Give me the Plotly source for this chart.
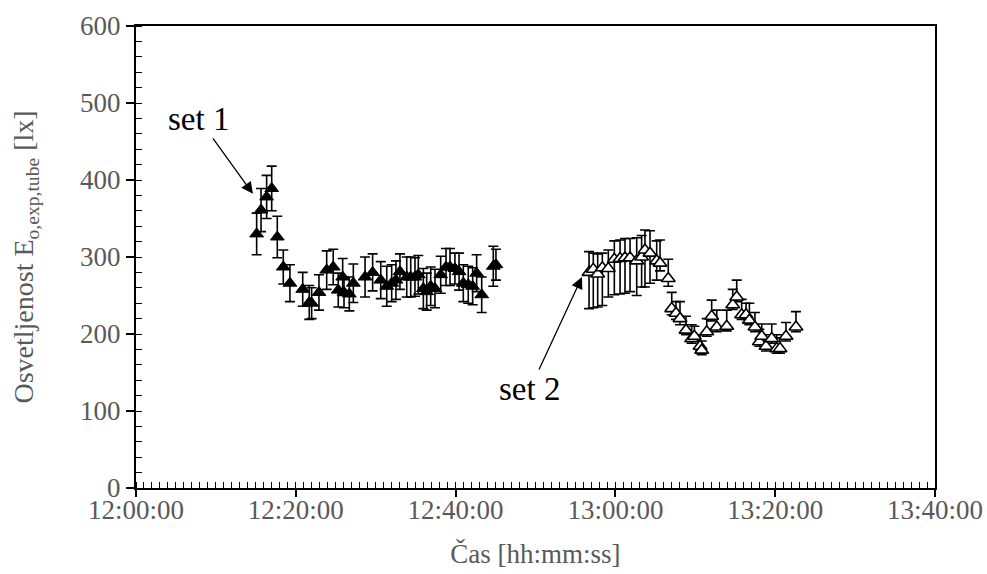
import plotly.graph_objects as go

# ---- data ----
set1_time = ["2024-01-01 12:15:06", "2024-01-01 12:15:39", "2024-01-01 12:16:21", "2024-01-01 12:16:59",
             "2024-01-01 12:17:41", "2024-01-01 12:18:26", "2024-01-01 12:19:16", "2024-01-01 12:20:52",
             "2024-01-01 12:21:41", "2024-01-01 12:21:59", "2024-01-01 12:22:54", "2024-01-01 12:23:52",
             "2024-01-01 12:24:41", "2024-01-01 12:25:19", "2024-01-01 12:25:52", "2024-01-01 12:26:02",
             "2024-01-01 12:26:42", "2024-01-01 12:27:12", "2024-01-01 12:28:40", "2024-01-01 12:29:37",
             "2024-01-01 12:30:38", "2024-01-01 12:31:23", "2024-01-01 12:32:00", "2024-01-01 12:32:32",
             "2024-01-01 12:33:02", "2024-01-01 12:33:53", "2024-01-01 12:34:23", "2024-01-01 12:34:55",
             "2024-01-01 12:35:20", "2024-01-01 12:35:58", "2024-01-01 12:36:23", "2024-01-01 12:36:53",
             "2024-01-01 12:37:25", "2024-01-01 12:38:08", "2024-01-01 12:38:48", "2024-01-01 12:39:18",
             "2024-01-01 12:39:55", "2024-01-01 12:40:26", "2024-01-01 12:40:58", "2024-01-01 12:41:35",
             "2024-01-01 12:42:08", "2024-01-01 12:42:38", "2024-01-01 12:43:16", "2024-01-01 12:44:43",
             "2024-01-01 12:45:03"]
set1_value = [330, 361, 378, 389, 326, 287, 266, 258, 241, 240, 254, 283, 287, 257, 274, 254, 252, 266,
              274, 280, 270, 262, 266, 270, 281, 274, 274, 274, 277, 259, 255, 262, 259, 277, 287, 287,
              285, 281, 266, 264, 262, 279, 251, 288, 290]
set1_err = [27, 28, 28, 29, 27, 22, 24, 22, 22, 20, 23, 25, 23, 22, 24, 20, 22, 25,
            26, 24, 24, 26, 24, 25, 23, 26, 26, 25, 25, 26, 24, 25, 25, 24, 24, 24,
            20, 24, 24, 24, 24, 24, 23, 26, 20]

set2_time = ["2024-01-01 12:56:42", "2024-01-01 12:57:14", "2024-01-01 12:57:47", "2024-01-01 12:58:22",
             "2024-01-01 12:59:07", "2024-01-01 12:59:52", "2024-01-01 13:00:35", "2024-01-01 13:01:12",
             "2024-01-01 13:01:50", "2024-01-01 13:02:40", "2024-01-01 13:03:17", "2024-01-01 13:03:42",
             "2024-01-01 13:04:20", "2024-01-01 13:05:10", "2024-01-01 13:05:35", "2024-01-01 13:06:37",
             "2024-01-01 13:07:03", "2024-01-01 13:07:35", "2024-01-01 13:08:05", "2024-01-01 13:08:50",
             "2024-01-01 13:09:33", "2024-01-01 13:09:53", "2024-01-01 13:10:36", "2024-01-01 13:10:48",
             "2024-01-01 13:11:26", "2024-01-01 13:12:03", "2024-01-01 13:12:41", "2024-01-01 13:13:56",
             "2024-01-01 13:14:41", "2024-01-01 13:15:11", "2024-01-01 13:15:48", "2024-01-01 13:16:21",
             "2024-01-01 13:16:46", "2024-01-01 13:17:28", "2024-01-01 13:18:01", "2024-01-01 13:18:19",
             "2024-01-01 13:18:51", "2024-01-01 13:19:34", "2024-01-01 13:20:11", "2024-01-01 13:20:36",
             "2024-01-01 13:21:21", "2024-01-01 13:22:36"]
set2_value = [280, 284, 278, 286, 285, 297, 298, 299, 299, 295, 300, 309, 305, 295, 292, 272,
              233, 227, 220, 205, 194, 197, 184, 179, 203, 223, 209, 210, 238, 248, 225, 225,
              218, 209, 190, 197, 184, 194, 181, 181, 197, 209]
set2_err_plus = [27, 21, 26, 19, 24, 24, 24, 25, 25, 30, 28, 26, 29, 26, 30, 25,
                 21, 15, 22, 18, 18, 13, 15, 12, 17, 21, 22, 21, 20, 22, 20, 15,
                 22, 19, 16, 16, 15, 19, 18, 14, 18, 20]
set2_err_minus = [47, 50, 43, 49, 37, 46, 46, 46, 44, 45, 39, 48, 39, 25, 10, 10,
                  8, 8, 8, 6, 6, 6, 6, 6, 6, 6, 6, 6, 6, 6, 6, 6,
                  6, 6, 6, 6, 6, 6, 6, 6, 6, 6]

x_range = ["2024-01-01 12:00:00", "2024-01-01 13:40:00"]
y_range = [0, 600]

FONT = "Liberation Serif"
GREY = "#595959"

fig = go.Figure()

fig.add_trace(go.Scatter(
    x=set1_time, y=set1_value, mode="markers", name="set 1",
    marker=dict(symbol="triangle-up", size=12, color="black",
                line=dict(color="black", width=1)),
    error_y=dict(type="data", array=set1_err, visible=True,
                 color="black", thickness=1.6, width=5),
))
fig.add_trace(go.Scatter(
    x=set2_time, y=set2_value, mode="markers", name="set 2",
    marker=dict(symbol="triangle-up", size=12, color="white",
                line=dict(color="black", width=1.6)),
    error_y=dict(type="data", symmetric=False, array=set2_err_plus,
                 arrayminus=set2_err_minus, visible=True,
                 color="black", thickness=1.6, width=5),
))

fig.update_layout(
    width=987, height=574,
    margin=dict(l=136, r=52, t=26, b=86),
    paper_bgcolor="white", plot_bgcolor="white",
    showlegend=False,
    font=dict(family=FONT, size=27, color=GREY),
    xaxis=dict(
        type="date", range=x_range, automargin=False,
        tick0="2024-01-01 12:00:00", dtick=20 * 60 * 1000,
        tickformat="%H:%M:%S",
        ticks="outside", ticklen=7, tickwidth=1.5, tickcolor="black",
        ticklabelstandoff=-10,
        showline=True, linecolor="black", linewidth=2, mirror=True,
        showgrid=False, zeroline=False,
        tickfont=dict(family=FONT, size=27, color=GREY),
        minor=dict(dtick=60 * 1000, ticks="inside", ticklen=6,
                   tickwidth=1, tickcolor="black", showgrid=False),
        title=dict(text="Čas [hh:mm:ss]", standoff=20,
                   font=dict(family=FONT, size=27, color=GREY)),
    ),
    xaxis2=dict(
        type="date", range=x_range, overlaying="x", anchor="y", side="bottom",
        automargin=False,
        tick0="2024-01-01 12:00:00", dtick=20 * 60 * 1000,
        ticks="inside", ticklen=7, tickwidth=1.5, tickcolor="black",
        showticklabels=False, showline=False, showgrid=False, zeroline=False,
    ),
    yaxis=dict(
        range=y_range, dtick=100, tick0=0, automargin=False,
        ticks="outside", ticklen=8, tickwidth=1.5, tickcolor="black",
        showline=True, linecolor="black", linewidth=2, mirror=True,
        showgrid=False, zeroline=False,
        tickfont=dict(family=FONT, size=27, color=GREY),
        minor=dict(dtick=20, ticks="inside", ticklen=6, tickwidth=1,
                   tickcolor="black", showgrid=False),
        title=dict(text="Osvetljenost E<sub>o,exp,tube</sub> [lx]", standoff=38,
                   font=dict(family=FONT, size=28, color=GREY)),
    ),
)

fig.add_annotation(
    x="2024-01-01 12:14:38", y=382, xref="x", yref="y",
    text="set 1", showarrow=True, ax=-54, ay=-75, axref="pixel", ayref="pixel",
    arrowhead=2, arrowsize=1.8, arrowwidth=1.3, arrowcolor="black",
    font=dict(family=FONT, size=33, color="black"),
)
fig.add_annotation(
    x="2024-01-01 12:55:49", y=274, xref="x", yref="y",
    text="set 2", showarrow=True, ax=-52, ay=112, axref="pixel", ayref="pixel",
    arrowhead=2, arrowsize=1.8, arrowwidth=1.3, arrowcolor="black",
    font=dict(family=FONT, size=33, color="black"),
)

fig.write_html("out.html")
